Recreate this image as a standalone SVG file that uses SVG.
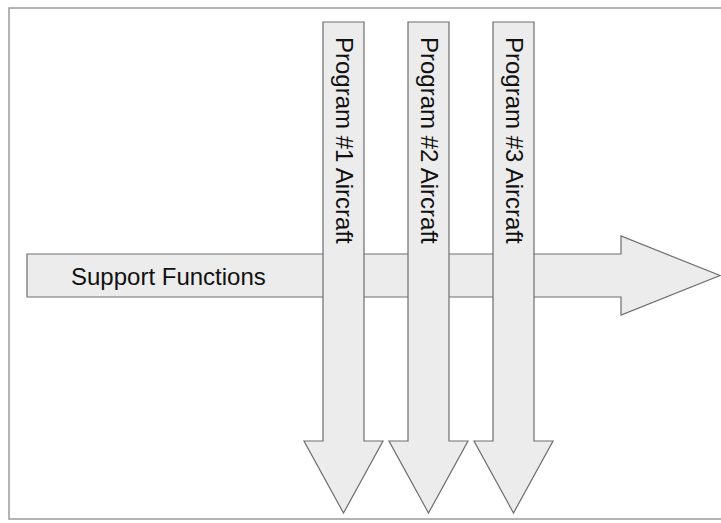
<svg xmlns="http://www.w3.org/2000/svg" width="721" height="523" viewBox="0 0 721 523">
  <defs>
    <style>
      .frame { fill: #ffffff; stroke: #9a9a9a; stroke-width: 1.5; }
      .arrow { fill: #ececec; stroke: #6e6e6e; stroke-width: 1.2; stroke-linejoin: miter; }
      .label { font-family: "Liberation Sans", Arial, sans-serif; font-size: 24px; fill: #111111; }
    </style>
  </defs>

  <rect x="0" y="0" width="721" height="523" fill="#ffffff"/>
  <rect class="frame" x="9" y="8" width="720" height="511"/>

  <!-- horizontal flow -->
  <g id="support-functions">
    <polygon class="arrow" points="27,254 621,254 621,236 720,275.5 621,315 621,297 27,297"/>
    <text class="label" x="71" y="285">Support Functions</text>
  </g>

  <!-- vertical program flows -->
  <g id="program-1">
    <polygon class="arrow" points="323,22 364,22 364,441 383,441 343.5,513 304,441 323,441"/>
    <text class="label" transform="translate(336,37) rotate(90)">Program #1 Aircraft</text>
  </g>
  <g id="program-2">
    <polygon class="arrow" points="408,22 449,22 449,441 468,441 428.5,513 389,441 408,441"/>
    <text class="label" transform="translate(421,37) rotate(90)">Program #2 Aircraft</text>
  </g>
  <g id="program-3">
    <polygon class="arrow" points="493,22 534,22 534,441 553,441 513.5,513 474,441 493,441"/>
    <text class="label" transform="translate(506,37) rotate(90)">Program #3 Aircraft</text>
  </g>

  <g id="connectors"/>
</svg>
